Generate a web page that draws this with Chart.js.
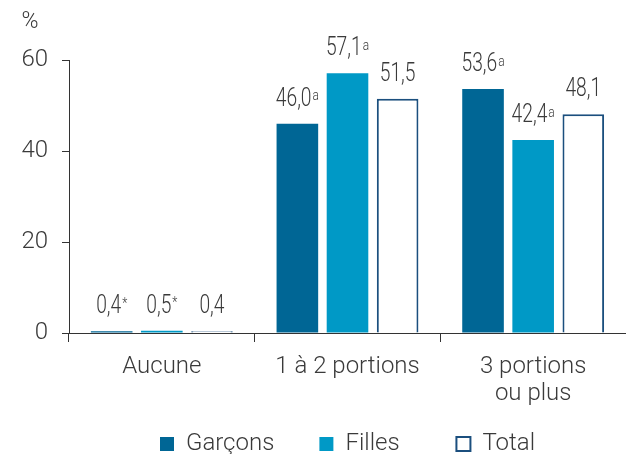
<!DOCTYPE html>
<html>
<head>
<meta charset="utf-8">
<script src="https://cdn.jsdelivr.net/npm/chart.js@4/dist/chart.umd.min.js"></script>
<style>
  body { margin: 0; background: #fff; }
  canvas { display: block; }
</style>
</head>
<body>
<canvas id="myChart" width="626" height="454"></canvas>
<script>
// données
var categories = ["Aucune", "1 à 2 portions", ["3 portions", "ou plus"]];
var garcons = [0.4, 46.0, 53.6];
var filles = [0.5, 57.1, 42.4];
var total = [0.4, 51.5, 48.1];
// notes au-dessus des valeurs
var garconsNotes = ["*", "a", "a"];
var fillesNotes = ["*", "a", "a"];
var totalNotes = ["", "", ""];
var yTicks = [0, 20, 40, 60];

var textColor = "#3a3a3a";
var baseFont = "Roboto";

// étiquettes des valeurs (police étroite)
var valueLabels = {
    id: 'valueLabels',
    afterDatasetsDraw: function(chart) {
        var ctx = chart.ctx;
        chart.data.datasets.forEach(function(ds, i) {
            var meta = chart.getDatasetMeta(i);
            meta.data.forEach(function(bar, j) {
                var txt = ds.data[j].toFixed(1).replace('.', ',');
                var note = ds.notes[j];
                ctx.save();
                ctx.fillStyle = textColor;
                ctx.font = "300 26px " + baseFont;
                var w = ctx.measureText(txt).width * 0.74;
                ctx.font = "300 15px " + baseFont;
                var wn = note ? ctx.measureText(note).width * 0.8 + 1 : 0;
                var x0 = bar.x - (w + wn) / 2;
                var y0 = bar.y - 18;
                ctx.translate(x0, y0);
                ctx.scale(0.74, 1);
                ctx.font = "300 26px " + baseFont;
                ctx.textAlign = 'left';
                ctx.textBaseline = 'alphabetic';
                ctx.fillText(txt, 0, 0);
                ctx.restore();
                if (note) {
                    ctx.save();
                    ctx.fillStyle = textColor;
                    ctx.translate(x0 + w + 1, y0 - 9);
                    ctx.scale(0.8, 1);
                    ctx.font = "300 15px " + baseFont;
                    ctx.fillText(note, 0, 0);
                    ctx.restore();
                }
            });
        });
        // unité
        ctx.save();
        ctx.fillStyle = textColor;
        ctx.font = "300 23px " + baseFont;
        ctx.textAlign = 'center';
        ctx.textBaseline = 'middle';
        ctx.fillText("%", 30, 22);
        ctx.restore();
    }
};

var ctx = document.getElementById("myChart").getContext('2d');

var myBarChart = new Chart(ctx, {
    type: 'bar',
    data: {
        labels: categories,
        datasets: [
            {
                label: 'Garçons',
                data: garcons,
                notes: garconsNotes,
                backgroundColor: "#006695",
                borderWidth: 0
            },
            {
                label: 'Filles',
                data: filles,
                notes: fillesNotes,
                backgroundColor: "#0099c6",
                borderWidth: 0
            },
            {
                label: 'Total',
                data: total,
                notes: totalNotes,
                backgroundColor: "#ffffff",
                borderColor: "#1b4f7e",
                borderWidth: 2
            }
        ]
    },
    options: {
        responsive: false,
        animation: false,
        categoryPercentage: 0.81,
        barPercentage: 0.83,
        layout: { padding: { top: 60, right: 0, left: 0, bottom: -12 } },
        plugins: {
            tooltip: { enabled: false },
            legend: {
                position: 'bottom',
                fullSize: false,
                labels: {
                    color: textColor,
                    font: { family: baseFont, size: 24, weight: '300' },
                    boxWidth: 14,
                    boxHeight: 14,
                    padding: 10,
                    generateLabels: function(chart) {
                        var items = Chart.defaults.plugins.legend.labels.generateLabels(chart);
                        var gaps = ["      ", "        ", ""];
                        items.forEach(function(it, k) { it.text = it.text + gaps[k]; });
                        return items;
                    }
                }
            }
        },
        scales: {
            x: {
                grid: {
                    drawOnChartArea: false,
                    tickLength: 9,
                    color: "#333"
                },
                border: { color: "#333" },
                ticks: {
                    color: textColor,
                    font: { family: baseFont, size: 24, weight: '300', lineHeight: 1.12 },
                    padding: 12,
                    maxRotation: 0
                },
                afterFit: function(scale) { scale.height = 89; }
            },
            y: {
                min: 0,
                max: 60,
                afterBuildTicks: function(scale) {
                    scale.ticks = yTicks.map(function(v) { return { value: v }; });
                },
                grid: {
                    drawOnChartArea: false,
                    tickLength: 7,
                    color: "#333"
                },
                border: { color: "#333" },
                ticks: {
                    color: textColor,
                    font: { family: baseFont, size: 24, weight: '300' },
                    padding: 14
                },
                afterFit: function(scale) { scale.width = 69; }
            }
        }
    },
    plugins: [valueLabels]
});
</script>
</body>
</html>
